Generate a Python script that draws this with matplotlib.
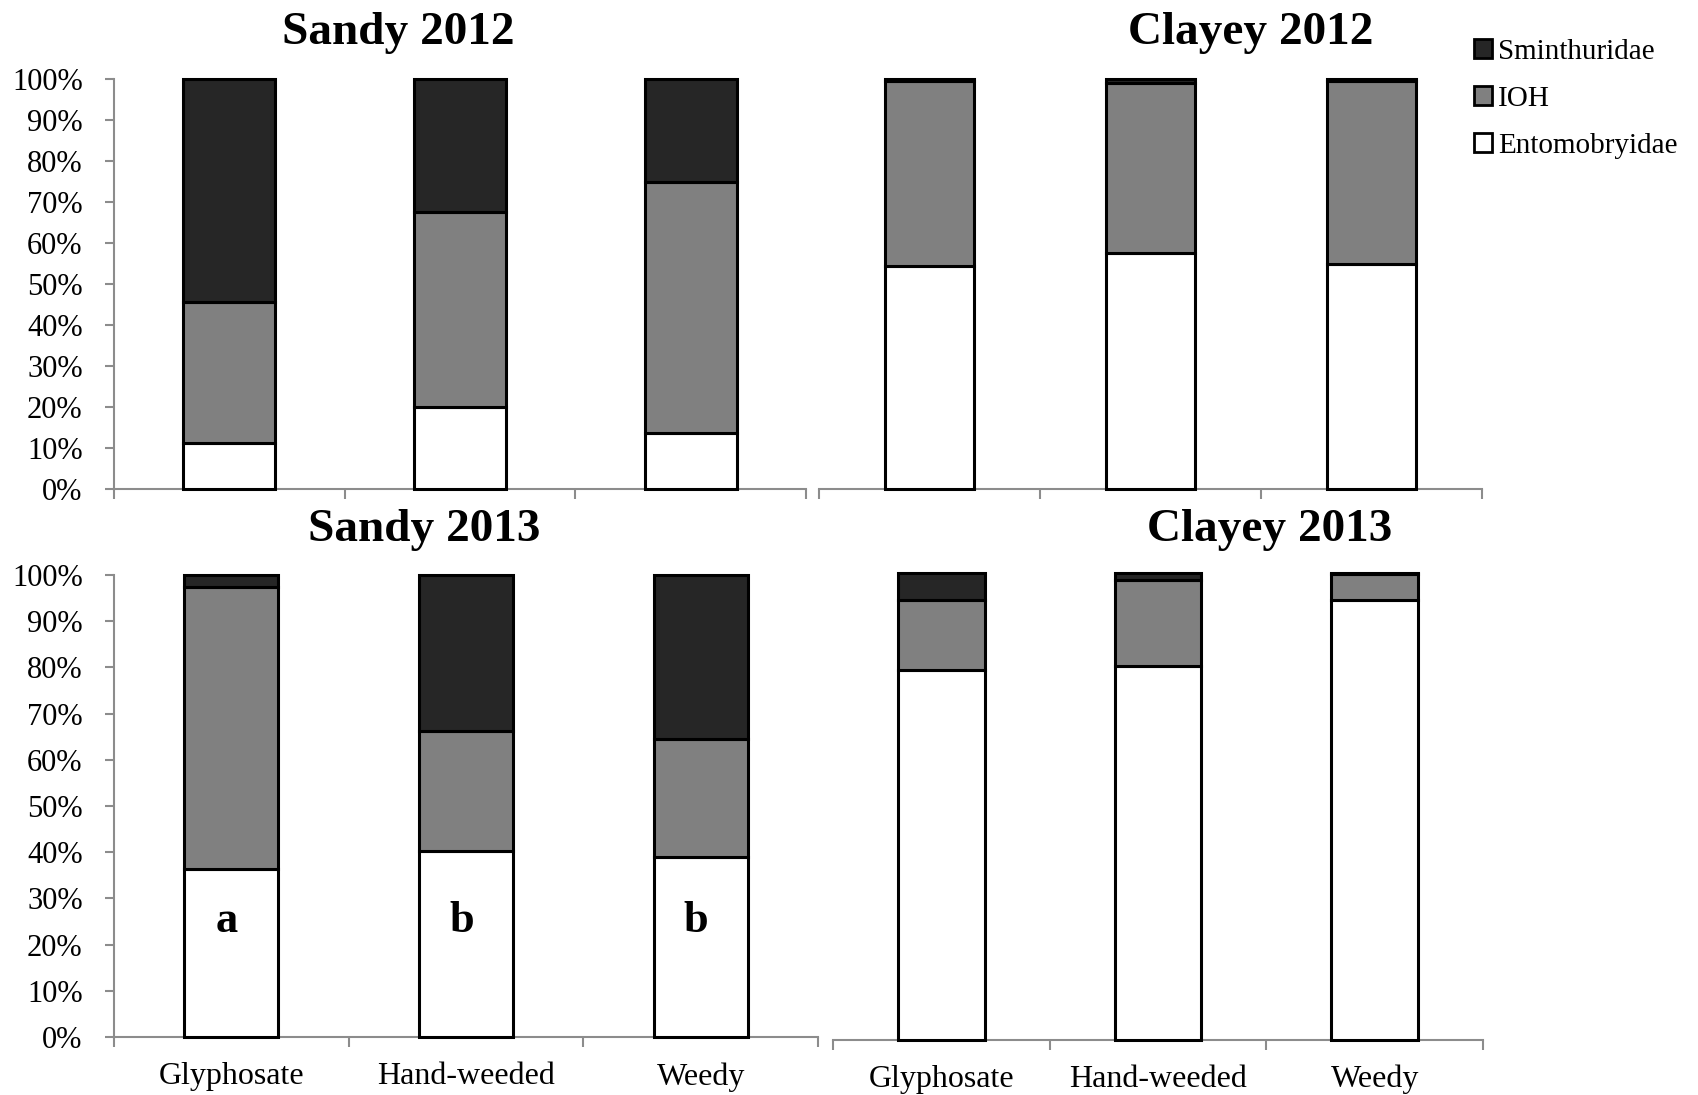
import matplotlib
matplotlib.use("Agg")
import matplotlib.pyplot as plt
from matplotlib.patches import Patch
from matplotlib.ticker import FuncFormatter, FixedLocator

plt.rcParams['font.family'] = ['Liberation Serif', 'DejaVu Serif']

# === Data (percent of each family) ===
treatments = ["Glyphosate", "Hand-weeded", "Weedy"]
families = ["Sminthuridae", "IOH", "Entomobryidae"]

sandy12_ent = [11.3, 20.1, 13.7]
sandy12_ioh = [34.4, 47.4, 61.2]
sandy12_smi = [54.3, 32.5, 25.1]

clayey12_ent = [54.4, 57.6, 54.9]
clayey12_ioh = [45.1, 41.4, 44.7]
clayey12_smi = [0.5, 1.0, 0.4]

sandy13_ent = [36.4, 40.2, 38.9]
sandy13_ioh = [61.1, 26.1, 25.5]
sandy13_smi = [2.5, 33.7, 35.6]

clayey13_ent = [79.3, 80.1, 94.3]
clayey13_ioh = [15.0, 18.3, 5.4]
clayey13_smi = [5.7, 1.6, 0.3]

sandy13_letters = ["a", "b", "b"]

colors = {"Sminthuridae": "#262626", "IOH": "#808080", "Entomobryidae": "#ffffff"}
axis_grey = "#8c8c8c"

W, H = 1699, 1095
fig = plt.figure(figsize=(W / 100, H / 100), dpi=100)


def px_axes(x0, y0, x1, y1):
    # pixel box (top-left origin) -> figure axes
    return fig.add_axes([x0 / W, 1 - y1 / H, (x1 - x0) / W, (y1 - y0) / H])


def draw_panel(ax, ent, ioh, smi, show_y, show_x):
    x = list(range(len(treatments)))
    kw = dict(width=0.4, edgecolor="black", linewidth=2.2, clip_on=False, zorder=3)
    ax.bar(x, ent, color=colors["Entomobryidae"], **kw)
    ax.bar(x, ioh, bottom=ent, color=colors["IOH"], **kw)
    bot = [a + b for a, b in zip(ent, ioh)]
    ax.bar(x, smi, bottom=bot, color=colors["Sminthuridae"], **kw)

    ax.set_xlim(-0.5, 2.5)
    ax.set_ylim(0, 100)
    for s in ["top", "right"]:
        ax.spines[s].set_visible(False)
    ax.spines["bottom"].set_color(axis_grey)
    ax.spines["bottom"].set_linewidth(1.5)
    ax.spines["bottom"].set_zorder(1)

    ax.set_xticks(x)
    ax.set_xticklabels(treatments if show_x else [""] * 3, fontsize=23)
    ax.xaxis.set_minor_locator(FixedLocator([-0.5, 0.5, 1.5, 2.5]))
    ax.tick_params(axis="x", which="major", length=0, pad=18)
    ax.tick_params(axis="x", which="minor", length=7, width=1.5,
                   color=axis_grey, direction="out")

    if show_y:
        ax.spines["left"].set_color(axis_grey)
        ax.spines["left"].set_linewidth(1.5)
        ax.set_yticks(range(0, 101, 10))
        ax.yaxis.set_major_formatter(FuncFormatter(lambda v, p: f"{int(v)}%"))
        ax.tick_params(axis="y", length=6.5, width=1.5, color=axis_grey,
                       labelsize=22, pad=16)
    else:
        ax.spines["left"].set_visible(False)
        ax.set_yticks([])


ax_tl = px_axes(114, 79, 806, 489)
ax_tr = px_axes(819, 79, 1482, 489)
ax_bl = px_axes(114, 575, 818, 1037)
ax_br = px_axes(833, 573, 1483, 1040)

draw_panel(ax_tl, sandy12_ent, sandy12_ioh, sandy12_smi, True, False)
draw_panel(ax_tr, clayey12_ent, clayey12_ioh, clayey12_smi, False, False)
draw_panel(ax_bl, sandy13_ent, sandy13_ioh, sandy13_smi, True, True)
draw_panel(ax_br, clayey13_ent, clayey13_ioh, clayey13_smi, False, True)

for i, lt in enumerate(sandy13_letters):
    ax_bl.text(i - 0.02, 25.1, lt, ha="center", va="center", fontsize=32,
               fontweight="bold", zorder=5)

# panel titles
titles = [("Sandy 2012", 398, 33), ("Clayey 2012", 1251, 33),
          ("Sandy 2013", 424, 530), ("Clayey 2013", 1270, 530)]
for t, tx, ty in titles:
    fig.text(tx / W, 1 - ty / H, t, ha="center", va="center",
             fontsize=34, fontweight="bold")

handles = [Patch(facecolor=colors[f], edgecolor="black", linewidth=2) for f in families]
fig.legend(handles, families, loc="upper left",
           bbox_to_anchor=(1474 / W, 1 - 39 / H), frameon=False,
           fontsize=21, handlelength=0.62, handleheight=0.62,
           handletextpad=0.2, labelspacing=0.72, borderpad=0, borderaxespad=0)

fig.savefig("out.png", dpi=100)
